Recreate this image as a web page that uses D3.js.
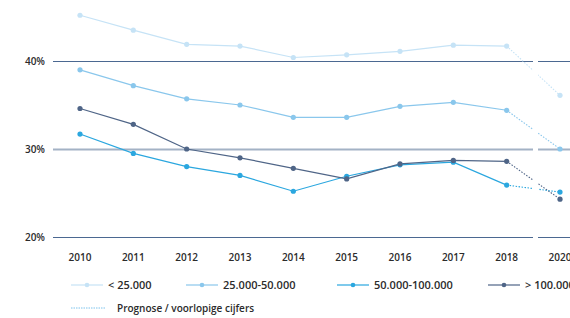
<!DOCTYPE html>
<html>
<head>
<meta charset="utf-8">
<script src="https://cdn.jsdelivr.net/npm/d3@7"></script>
<style>
  body { margin: 0; background: #fff; }
  svg text { font-family: "Open Sans", "Noto Sans", sans-serif; fill: #2b2b2b; }
</style>
</head>
<body>
<svg id="chart" width="570" height="318"></svg>
<script>
// Data
const years = ["2010", "2011", "2012", "2013", "2014", "2015", "2016", "2017", "2018", "2020"];
const yTicks = [20, 30, 40];

const small = [45.2, 43.5, 41.9, 41.7, 40.4, 40.7, 41.1, 41.8, 41.7, 36.1];
const medium = [39.0, 37.2, 35.7, 35.0, 33.6, 33.6, 34.85, 35.3, 34.4, 30.0];
const large = [31.7, 29.5, 28.0, 27.0, 25.2, 26.9, 28.2, 28.5, 25.9, 25.1];
const xlarge = [34.6, 32.8, 30.0, 29.0, 27.8, 26.6, 28.3, 28.7, 28.6, 24.3];

const seriesNames = ["< 25.000", "25.000-50.000", "50.000-100.000", "> 100.000"];
const seriesColors = ["#c6e3f6", "#8ac7ec", "#2ba7df", "#4f6587"];
const forecastLabel = "Prognose / voorlopige cijfers";

const series = [small, medium, large, xlarge].map((vals, i) => ({
  name: seriesNames[i],
  color: seriesColors[i],
  values: vals.map((v, j) => ({ year: years[j], v: v }))
}));

const svg = d3.select("#chart");

const x = d3.scalePoint()
  .domain(years)
  .range([80, 560]);

const y = d3.scaleLinear()
  .domain([20, 40])
  .range([237, 61]);

// gridlines
const gridColor = { 20: "#4b6891", 30: "#a3b2c5", 40: "#4b6891" };
svg.append("g")
  .selectAll("line")
  .data(yTicks)
  .enter()
  .append("line")
  .attr("x1", 53)
  .attr("x2", 570)
  .attr("y1", d => y(d) + 0.5)
  .attr("y2", d => y(d) + 0.5)
  .attr("stroke", d => gridColor[d])
  .attr("stroke-width", d => d === 30 ? 2 : 1.2);

svg.append("g")
  .selectAll("text")
  .data(yTicks)
  .enter()
  .append("text")
  .attr("x", 45)
  .attr("y", d => y(d) + 3.5)
  .attr("text-anchor", "end")
  .attr("font-size", "10px")
  .attr("font-weight", 600)
  .text(d => d + "%");

// x labels
svg.append("g")
  .selectAll("text")
  .data(years)
  .enter()
  .append("text")
  .attr("x", d => x(d))
  .attr("y", 261)
  .attr("text-anchor", "middle")
  .attr("font-size", "10px")
  .attr("font-weight", 600)
  .text(d => d);

const line = d3.line()
  .x(d => x(d.year))
  .y(d => y(d.v));

// forecast dotted part
svg.append("g")
  .selectAll("path")
  .data(series)
  .enter()
  .append("path")
  .attr("d", d => line(d.values.slice(8)))
  .attr("fill", "none")
  .attr("stroke", d => d.color)
  .attr("stroke-width", 1.1)
  .attr("stroke-dasharray", "1.5,1.5");

// break in the axis between 2018 and 2020
svg.append("rect")
  .attr("x", 533)
  .attr("y", 40)
  .attr("width", 5)
  .attr("height", 205)
  .attr("fill", "#fff");

const solid = svg.append("g");
solid.selectAll("path")
  .data(series)
  .enter()
  .append("path")
  .attr("d", d => line(d.values.slice(0, 9)))
  .attr("fill", "none")
  .attr("stroke", d => d.color)
  .attr("stroke-width", 1.2);

series.forEach(s => {
  solid.selectAll(null)
    .data(s.values)
    .enter()
    .append("circle")
    .attr("cx", d => x(d.year))
    .attr("cy", d => y(d.v))
    .attr("r", 2.6)
    .attr("fill", s.color);
});

// legend
const legendX = [71, 186, 337, 488];
const legend = svg.append("g")
  .selectAll("g")
  .data(series)
  .enter()
  .append("g")
  .attr("transform", (d, i) => "translate(" + legendX[i] + ",285)");

legend.append("line")
  .attr("x1", 0)
  .attr("x2", 32)
  .attr("stroke", d => d.color)
  .attr("stroke-width", 1.2);
legend.append("circle")
  .attr("cx", 16)
  .attr("r", 2.3)
  .attr("fill", d => d.color);
legend.append("text")
  .attr("x", 37)
  .attr("y", 4)
  .attr("font-size", "11px")
  .attr("font-weight", 600)
  .text(d => d.name);

const fc = svg.append("g").attr("transform", "translate(71,308)");
fc.append("line")
  .attr("x1", 0)
  .attr("x2", 34)
  .attr("stroke", "#7cc3ec")
  .attr("stroke-width", 1)
  .attr("stroke-dasharray", "1.5,1");
fc.append("text")
  .attr("x", 46)
  .attr("y", 3.5)
  .attr("font-size", "10px")
  .attr("font-weight", 600)
  .text(forecastLabel);
</script>
</body>
</html>
